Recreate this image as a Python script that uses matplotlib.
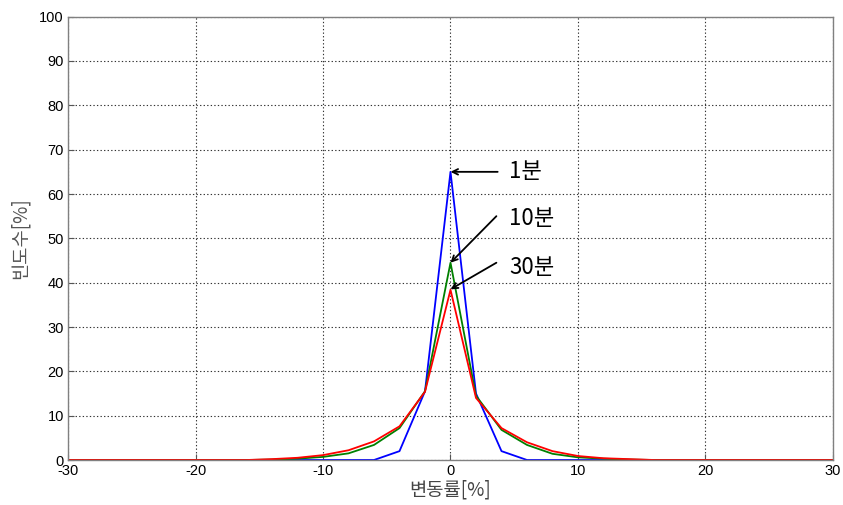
import numpy as np
import matplotlib.pyplot as plt

plt.rcParams['font.family'] = ['Liberation Sans', 'Noto Sans CJK KR', 'DejaVu Sans']
plt.rcParams['axes.unicode_minus'] = False

# data (x step 2, from -30 to 30)
x = np.arange(-30, 31, 2)
blue_1min = [0, 0, 0, 0, 0, 0, 0, 0, 0, 0, 0, 0, 0, 2.0, 15.5, 65.0,
             15.0, 2.0, 0, 0, 0, 0, 0, 0, 0, 0, 0, 0, 0, 0, 0]
green_10min = [0, 0, 0, 0, 0, 0, 0, 0, 0.1, 0.3, 0.7, 1.5, 3.4, 7.2, 15.5, 44.5,
               14.5, 6.8, 3.4, 1.4, 0.6, 0.3, 0.1, 0, 0, 0, 0, 0, 0, 0, 0]
red_30min = [0, 0, 0, 0, 0, 0, 0, 0, 0.2, 0.5, 1.1, 2.2, 4.2, 7.6, 15.4, 38.4,
             14.0, 7.2, 4.0, 2.0, 0.9, 0.4, 0.2, 0, 0, 0, 0, 0, 0, 0, 0]

labels = ['1분', '10분', '30분']
label_pos = [(4.6, 65), (4.6, 54.5), (4.6, 43.5)]
arrow_tail = [(3.7, 65), (3.6, 55), (3.6, 44.5)]
arrow_head = [(0, 65), (0, 44.5), (0, 38.5)]

fig = plt.figure(figsize=(8.43, 5.05), dpi=100)
ax = fig.add_axes([0.0807, 0.0891, 0.9074, 0.8779])

ax.plot(x, blue_1min, color='#0000ff', lw=1.3)
ax.plot(x, green_10min, color='#008000', lw=1.3)
ax.plot(x, red_30min, color='#ff0000', lw=1.3)

for lab, tp, tail, head in zip(labels, label_pos, arrow_tail, arrow_head):
    ax.annotate('', xy=head, xytext=tail,
                arrowprops=dict(arrowstyle='->', color='black', lw=1.3,
                                shrinkA=0, shrinkB=0))
    ax.text(tp[0], tp[1], lab, fontsize=16, va='center', ha='left',
            family=['Noto Sans CJK KR', 'DejaVu Sans'])

ax.set_xlim(-30, 30)
ax.set_ylim(0, 100)
ax.set_xticks(np.arange(-30, 31, 10))
ax.set_yticks(np.arange(0, 101, 10))
ax.grid(True, color='#333333', linestyle=(0, (1.2, 2.0)), lw=0.8)
ax.tick_params(direction='in', length=4, labelsize=10.5, colors='#555555',
               labelcolor='black', pad=3)
for s in ax.spines.values():
    s.set_color('#808080')
    s.set_linewidth(1.0)

ax.set_xlabel('변동률[%]', fontsize=13.5, color='#444444', labelpad=1,
              family=['Noto Sans CJK KR', 'DejaVu Sans'])
ax.set_ylabel('빈도수[%]', fontsize=13.5, color='#555555', labelpad=6,
              family=['Noto Sans CJK KR', 'DejaVu Sans'])

fig.savefig('out.png', dpi=100)
